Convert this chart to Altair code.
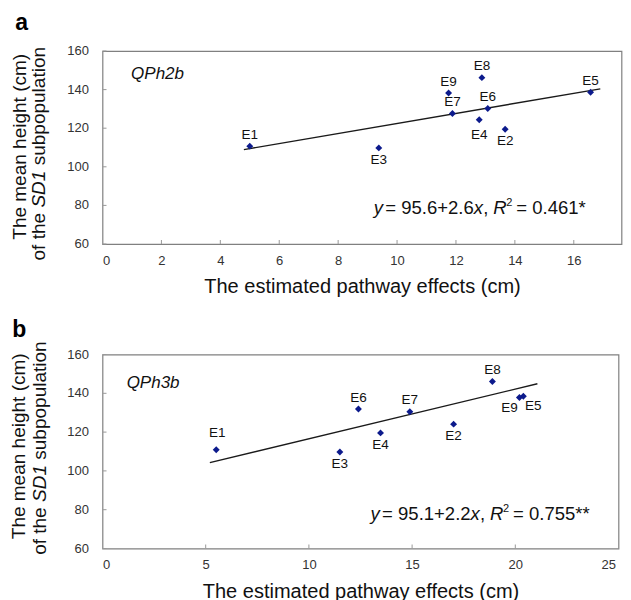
import altair as alt
import pandas as pd

FONT = "Liberation Sans"
BLUE = "#0c1a8c"
FRAME = "#808080"

env = ["E1", "E2", "E3", "E4", "E5", "E6", "E7", "E8", "E9"]

# panel a (QPh2b)
a_effect = [5.0, 13.67, 9.38, 12.79, 16.57, 13.08, 11.88, 12.88, 11.75]
a_height = [110.7, 119.5, 109.8, 124.4, 138.6, 130.2, 127.6, 146.2, 138.2]
a_place = ["above", "below", "below", "below_far", "above", "above", "above", "above", "above"]
a_fit_effect = [4.8, 16.9]
a_fit_height = [108.9, 140.4]
a_xticks = [0, 2, 4, 6, 8, 10, 12, 14, 16]
a_xmax = 17.62
a_eq = ["y", "= 95.6+2.6", "x", ",", "R", "2", "= 0.461*"]

# panel b (QPh3b)
b_effect = [5.51, 17.01, 11.5, 13.47, 20.39, 12.4, 14.89, 18.89, 20.2]
b_height = [110.9, 124.1, 109.7, 119.6, 138.5, 131.9, 130.5, 146.1, 137.8]
b_place = ["above_far", "below", "below", "below", "below_right", "above", "above", "above", "below_left"]
b_fit_effect = [5.2, 21.07]
b_fit_height = [104.3, 144.9]
b_xticks = [0, 5, 10, 15, 20, 25]
b_xmax = 25
b_eq = ["y", "= 95.1+2.2", "x", ",", "R", "2", "= 0.755**"]

y_ticks = [60, 80, 100, 120, 140, 160]
x_title = "The estimated pathway effects (cm)"
y_title_1 = "The mean height (cm)"
y_title_2 = ["of the", "SD1", "subpopulation"]

# label placement offsets (dx, dy)
OFF = {
    "above": (0, -11.5),
    "above_far": (1, -17),
    "below": (0, 12),
    "below_far": (0, 15.5),
    "below_left": (-10, 10),
    "below_right": (10, 10),
}
# equation segment styles: italic, size, dx, dy
EQ_STYLE = [
    (True, 18.5, 0, 0),
    (False, 18.5, 11.5, 0),
    (True, 18.5, 100, 0),
    (False, 18.5, 109.5, 0),
    (True, 18.5, 119.5, 0),
    (False, 11, 132.5, -8),
    (False, 18.5, 142.5, 0),
]
YT_SIZE = 19


def one(text):
    return pd.DataFrame({"t": [text]})


def panel(tag, qtl, effect, height, place, fit_e, fit_h, xticks, xmax, W, H,
          eq, eq_x, eq_y, q_x, q_y, yt1, yt2, tdx, toff, last_shift):
    pts = pd.DataFrame({"env": env, "effect": effect, "height": height, "place": place})
    fit = pd.DataFrame({"effect": fit_e, "height": fit_h})
    xs = alt.Scale(domain=[0, xmax], nice=False, zero=False)
    ys = alt.Scale(domain=[60, 160], nice=False, zero=False)
    X = alt.X("effect:Q", scale=xs, axis=alt.Axis(
        values=xticks, title=x_title, labelFont=FONT, labelFontSize=13,
        labelColor="#333333", domain=False, ticks=False, tickSize=0, grid=False,
        labelOverlap=False, labelPadding=10, titleFont=FONT, titleFontSize=20,
        titleFontWeight="normal", titleColor="#111111", titlePadding=9.5,
        labelOffset={"condition": {"test": f"datum.value == {xticks[-1]}",
                                   "value": last_shift}, "value": 0}))
    Y = alt.Y("height:Q", scale=ys, axis=None)

    layers = []
    layers.append(alt.Chart(fit).mark_line(color="#1a1a1a", strokeWidth=1.4).encode(x=X, y=Y))
    layers.append(alt.Chart(pts).mark_point(shape="diamond", filled=True, size=48,
                                            color=BLUE, opacity=1).encode(x=X, y=Y))
    for k, (dx, dy) in OFF.items():
        layers.append(alt.Chart(pts).transform_filter(alt.datum.place == k).mark_text(
            dx=dx, dy=dy, fontSize=13.5, font=FONT, color="#111111",
            align="center", baseline="middle").encode(x=X, y=Y, text="env:N"))
    # inward ticks
    layers.append(alt.Chart(pd.DataFrame({"effect": xticks})).mark_rule(
        color="#999999", strokeWidth=1).encode(x=X, y=alt.value(H), y2=alt.value(H - 4)))
    ytk = pd.DataFrame({"height": y_ticks})
    layers.append(alt.Chart(ytk).mark_rule(
        color="#999999", strokeWidth=1).encode(y=Y, x=alt.value(0), x2=alt.value(4)))
    # y tick labels
    layers.append(alt.Chart(ytk).mark_text(
        font=FONT, fontSize=13, color="#333333", align="right", baseline="middle",
        dx=-13.5).encode(y=Y, x=alt.value(0), text="height:Q"))
    # QTL name
    layers.append(alt.Chart(one(qtl)).mark_text(
        font=FONT, fontSize=17, fontStyle="italic", align="left", baseline="middle",
        color="#111111").encode(x=alt.datum(q_x), y=alt.datum(q_y), text="t:N"))
    # equation
    for seg, (it, fs, dx, dy) in zip(eq, EQ_STYLE):
        layers.append(alt.Chart(one(seg)).mark_text(
            font=FONT, fontSize=fs, fontStyle="italic" if it else "normal",
            align="left", baseline="alphabetic", dx=dx, dy=dy, color="#111111"
        ).encode(x=alt.datum(eq_x), y=alt.datum(eq_y), text="t:N"))
    # y-axis title (two lines, rotated, SD1 italic)
    layers.append(alt.Chart(one(y_title_1)).mark_text(
        font=FONT, fontSize=YT_SIZE, angle=270, align="center", baseline="middle",
        color="#111111").encode(x=alt.value(yt1[0]), y=alt.value(yt1[1]), text="t:N"))
    half = 18.5 + 5.3
    segs = [(y_title_2[0], "right", -half, "normal"),
            (y_title_2[1], "center", 0, "italic"),
            (y_title_2[2], "left", half, "normal")]
    for s, al, dx, st in segs:
        layers.append(alt.Chart(one(s)).mark_text(
            font=FONT, fontSize=YT_SIZE, angle=270, align=al, baseline="middle",
            dx=dx, fontStyle=st, color="#111111"
        ).encode(x=alt.value(yt2[0]), y=alt.value(yt2[1]), text="t:N"))

    return alt.layer(*layers).properties(
        width=W, height=H,
        title=alt.TitleParams(tag, anchor="start", frame="bounds", fontSize=23,
                              fontWeight="bold", font=FONT, color="#000000",
                              offset=toff, baseline="alphabetic", dx=tdx))


pa = panel("a", "QPh2b", a_effect, a_height, a_place, a_fit_effect, a_fit_height,
           a_xticks, a_xmax, 519, 193, a_eq, 9.21, 75.6, 0.97, 148.3,
           (-82.3, 95.8), (-63.3, 138.1), 4, -7.5, 0)
pb = panel("b", "QPh3b", b_effect, b_height, b_place, b_fit_effect, b_fit_height,
           b_xticks, b_xmax, 516, 194, b_eq, 12.99, 74.8, 1.17, 145.3,
           (-83.3, 91.8), (-63.0, 129.0), 2, -18.8, -3)

chart = alt.vconcat(pa, pb, spacing=20.5).properties(
    padding={"left": 1.5, "top": 2, "right": 0, "bottom": 0}
).configure_view(stroke=FRAME, strokeWidth=1.2)

chart.save("out.html", embed_options={"renderer": "svg", "actions": False})
